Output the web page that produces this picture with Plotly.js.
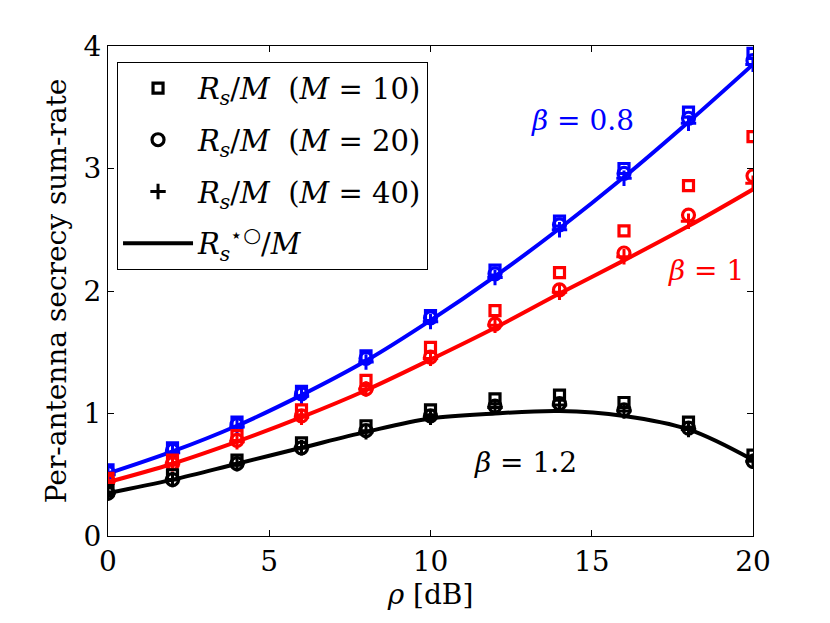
<!DOCTYPE html>
<html><head><meta charset="utf-8">
<script src="https://cdn.plot.ly/plotly-3.0.1.min.js"></script>
<style>html,body{margin:0;padding:0;background:#fff;}#chart{width:830px;height:623px;}</style>
</head><body><div id="chart"></div>
<script>
const rho = [0,2,4,6,8,10,12,14,16,18,20];
// beta = 0.8 (blue)
const b08_M10 = [0.54,0.72,0.93,1.18,1.47,1.80,2.17,2.57,3.00,3.46,3.94];
const b08_M20 = [0.52,0.70,0.91,1.16,1.45,1.78,2.14,2.54,2.96,3.41,3.88];
const b08_M40 = [0.50,0.68,0.89,1.14,1.42,1.75,2.11,2.50,2.92,3.37,3.85];
const b08_lim = [0.51,0.69,0.90,1.15,1.43,1.76,2.12,2.51,2.93,3.38,3.85];
// beta = 1 (red)
const b1_M10 = [0.47,0.62,0.82,1.03,1.27,1.54,1.84,2.15,2.49,2.86,3.26];
const b1_M20 = [0.45,0.59,0.78,0.98,1.20,1.46,1.73,2.01,2.31,2.62,2.94];
const b1_M40 = [0.45,0.59,0.77,0.97,1.20,1.45,1.72,1.99,2.28,2.57,2.88];
const b1_lim = [0.44,0.59,0.77,0.97,1.19,1.44,1.70,1.98,2.25,2.53,2.83];
// beta = 1.2 (black)
const b12_M10 = [0.37,0.50,0.62,0.76,0.90,1.03,1.12,1.15,1.09,0.93,0.66];
const b12_M20 = [0.35,0.46,0.59,0.72,0.86,0.98,1.06,1.08,1.03,0.88,0.61];
const b12_M40 = [0.35,0.46,0.59,0.72,0.85,0.97,1.05,1.07,1.02,0.87,0.61];
const b12_lim = [0.35,0.46,0.59,0.72,0.85,0.96,1.00,1.02,0.98,0.87,0.62];

const legendNames = [
  '<i>R</i><sub><i>s</i></sub>/<i>M</i>&nbsp;&nbsp;(<i>M</i> = 10)',
  '<i>R</i><sub><i>s</i></sub>/<i>M</i>&nbsp;&nbsp;(<i>M</i> = 20)',
  '<i>R</i><sub><i>s</i></sub>/<i>M</i>&nbsp;&nbsp;(<i>M</i> = 40)',
  '<i>R</i><sub><i>s</i></sub><sup>⋆○</sup>/<i>M</i>'
];
const betaLabels = ['<i>β</i> = 0.8','<i>β</i> = 1','<i>β</i> = 1.2'];

const groups = [
  {c:'#0000ff', m10:b08_M10, m20:b08_M20, m40:b08_M40, lim:b08_lim, leg:false},
  {c:'#ff0000', m10:b1_M10, m20:b1_M20, m40:b1_M40, lim:b1_lim, leg:false},
  {c:'#000000', m10:b12_M10, m20:b12_M20, m40:b12_M40, lim:b12_lim, leg:true}
];
const traces = [];
groups.forEach(g => {
  traces.push({x:rho, y:g.lim, mode:'lines', line:{color:g.c, width:4, shape:'spline', smoothing:1},
    name:legendNames[3], showlegend:g.leg, legendgroup:'d', legendrank:4});
  traces.push({x:rho, y:g.m10, mode:'markers', marker:{symbol:'square-open', size:10, color:g.c, line:{width:3.2, color:g.c}},
    name:legendNames[0], showlegend:g.leg, legendgroup:'a', legendrank:1});
  traces.push({x:rho, y:g.m20, mode:'markers', marker:{symbol:'circle-open', size:12, color:g.c, line:{width:3.2, color:g.c}},
    name:legendNames[1], showlegend:g.leg, legendgroup:'b', legendrank:2});
  traces.push({x:rho, y:g.m40, mode:'markers', marker:{symbol:'cross-thin-open', size:11, color:g.c, line:{width:3, color:g.c}},
    name:legendNames[2], showlegend:g.leg, legendgroup:'c', legendrank:3});
});

const fam = '"DejaVu Serif", "Liberation Serif", serif';
const FS = 28;
const layout = {
  width:830, height:623,
  margin:{l:108, r:77, t:46, b:87},
  paper_bgcolor:'#fff', plot_bgcolor:'#fff',
  font:{family:fam, size:FS, color:'#000'},
  showlegend:true,
  legend:{x:0.014, y:0.968, xanchor:'left', yanchor:'top', bgcolor:'#fff', bordercolor:'#000', borderwidth:1,
    traceorder:'grouped', tracegroupgap:11, font:{family:fam, size:29, color:'#000'}, itemwidth:70},
  xaxis:{range:[0,20], dtick:5, tick0:0, ticks:'inside', ticklen:6, tickcolor:'#000', showline:true, linecolor:'#000', linewidth:1,
    mirror:'ticks', showgrid:false, zeroline:false, tickfont:{family:fam, size:FS},
    title:{text:'<i>ρ</i> [dB]', font:{family:fam, size:FS}, standoff:6}},
  yaxis:{range:[0,4], dtick:1, tick0:0, ticks:'inside', ticklen:6, tickcolor:'#000', showline:true, linecolor:'#000', linewidth:1,
    mirror:'ticks', showgrid:false, zeroline:false, tickfont:{family:fam, size:FS},
    title:{text:'Per-antenna secrecy sum-rate', font:{family:fam, size:FS}, standoff:8}},
  annotations:[
    {x:14.7, y:3.39, xref:'x', yref:'y', text:betaLabels[0], showarrow:false, font:{family:fam, size:FS, color:'#0000ff'}},
    {x:18.55, y:2.17, xref:'x', yref:'y', text:betaLabels[1], showarrow:false, font:{family:fam, size:FS, color:'#ff0000'}},
    {x:12.96, y:0.60, xref:'x', yref:'y', text:betaLabels[2], showarrow:false, font:{family:fam, size:FS, color:'#000000'}}
  ]
};
Plotly.newPlot('chart', traces, layout, {displayModeBar:false, staticPlot:true});
</script></body></html>
